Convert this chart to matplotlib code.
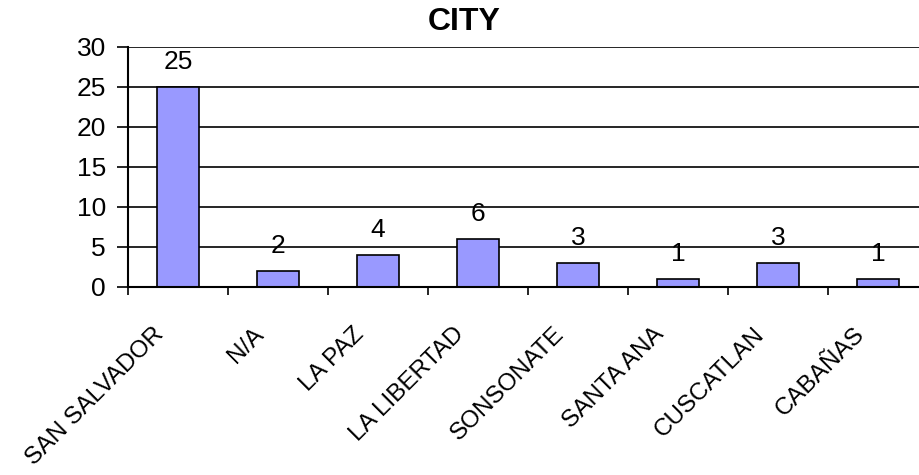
import matplotlib
matplotlib.use("Agg")
import matplotlib.pyplot as plt
from matplotlib.transforms import ScaledTranslation
import numpy as np

categories = ["SAN SALVADOR", "N/A", "LA PAZ", "LA LIBERTAD", "SONSONATE", "SANTA ANA", "CUSCATLAN", "CABAÑAS"]
values = [25, 2, 4, 6, 3, 1, 3, 1]
yticks = [0, 5, 10, 15, 20, 25, 30]

plt.rcParams['font.family'] = ['Liberation Sans', 'DejaVu Sans']

W, H = 919, 475
fig = plt.figure(figsize=(W / 100, H / 100), dpi=100)
x0, x1 = 128, 928
y0, y1 = 287, 47
ax = fig.add_axes([x0 / W, 1 - y0 / H, (x1 - x0) / W, (y0 - y1) / H])

x = np.arange(len(categories))
ax.bar(x, values, width=0.42, color="#9999FF", edgecolor="black", linewidth=1.2, zorder=3)
ax.set_xlim(-0.5, len(categories) - 0.5)
ax.set_ylim(0, 30)
ax.set_yticks(yticks)
ax.set_yticklabels([str(t) for t in yticks], fontsize=19)
for t in yticks[1:]:
    ax.axhline(t, color="black", linewidth=1.2, zorder=1)

ax.set_xticks(np.arange(len(categories) + 1) - 0.5)
ax.set_xticklabels([])
ax.set_xticks(x, minor=True)
ax.set_xticklabels(categories, minor=True, rotation=45, ha="right", va="top",
                   rotation_mode="anchor", fontsize=17.5)
ax.tick_params(axis="x", which="minor", length=0, pad=26)
ax.tick_params(axis="x", which="major", length=6, width=1.2, direction="out")
ax.tick_params(axis="y", length=8, width=1.2, direction="out", pad=8)
shift = ScaledTranslation(-25 / 100, 0, fig.dpi_scale_trans)
for lbl in ax.get_xticklabels(minor=True):
    lbl.set_transform(lbl.get_transform() + shift)

for s in ["top", "right"]:
    ax.spines[s].set_visible(False)
for s in ["left", "bottom"]:
    ax.spines[s].set_linewidth(1.5)
    ax.spines[s].set_zorder(4)

for xi, v in zip(x, values):
    ax.annotate(str(v), (xi, v), xytext=(0, 13), textcoords="offset points",
                ha="center", va="baseline", fontsize=19)

fig.text(464 / W, 1 - 22 / H, "CITY", ha="center", va="center", fontsize=23, fontweight="bold")

fig.savefig("out.png", dpi=100)
